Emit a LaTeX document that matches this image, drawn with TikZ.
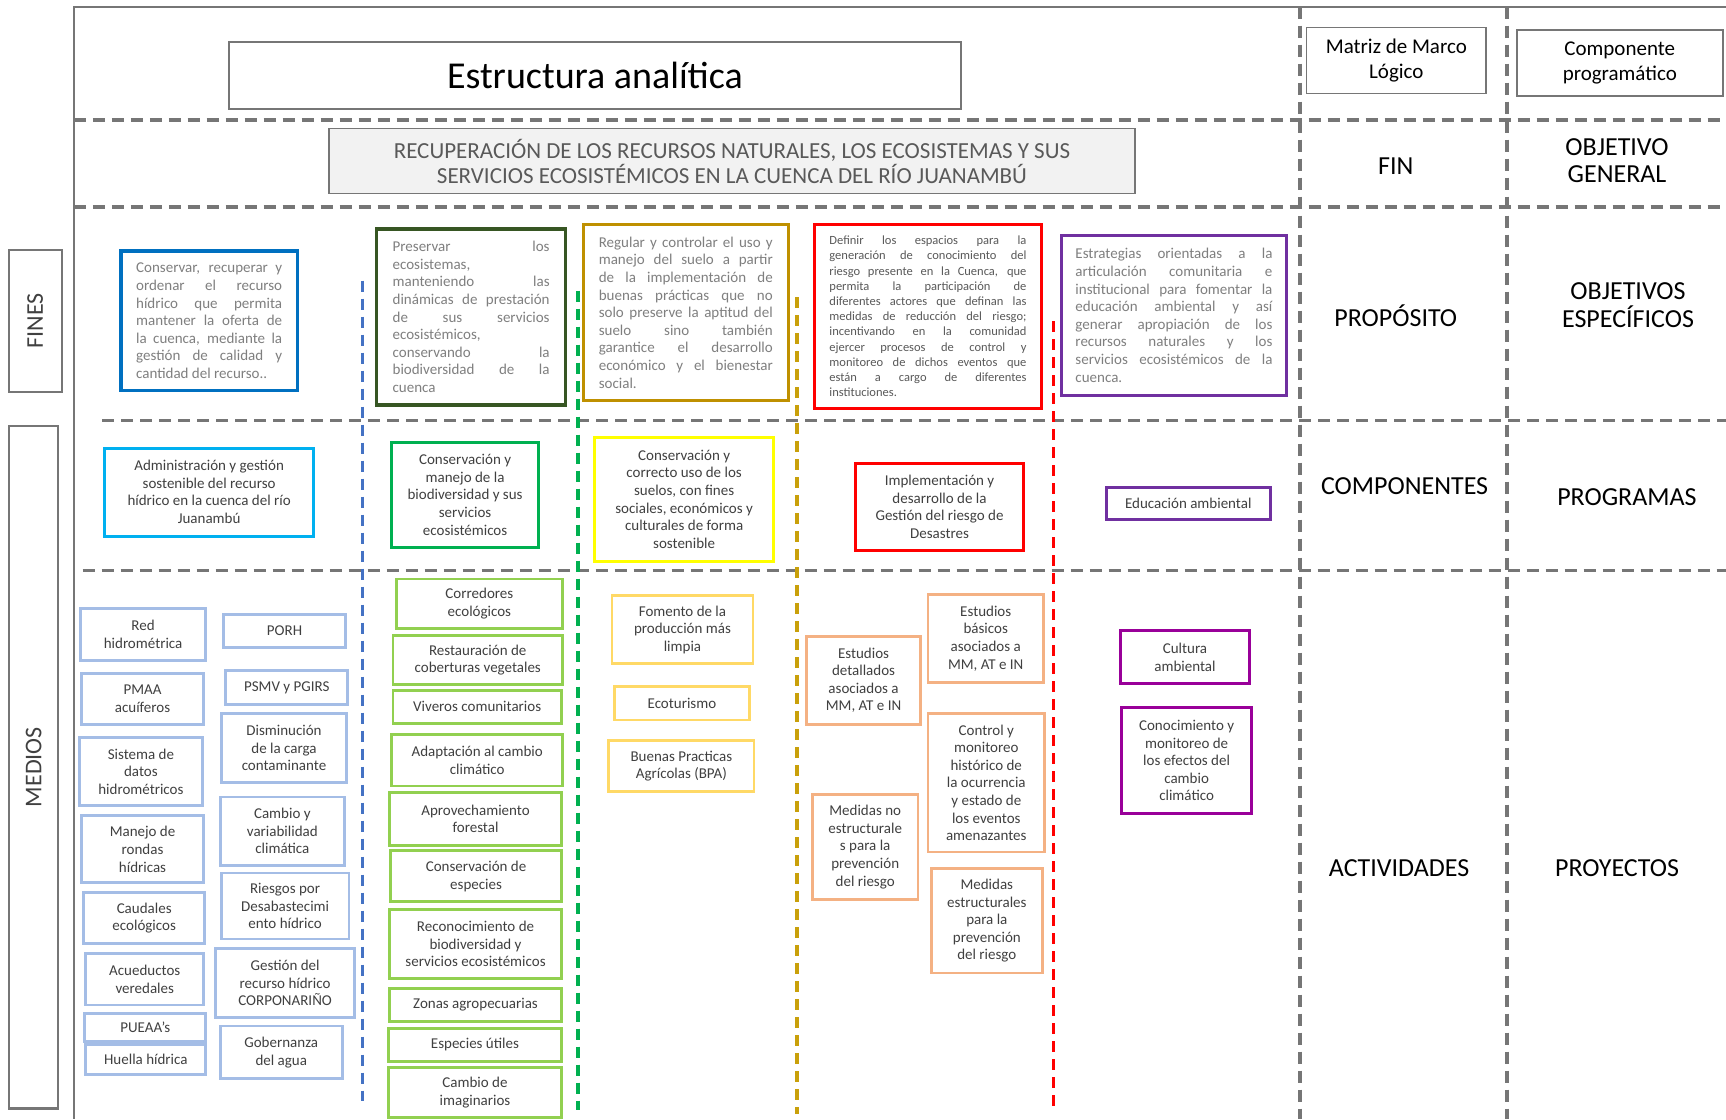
\documentclass[tikz,border=0pt]{standalone}
\usepackage{fontspec}
\setmainfont{Carlito}
\definecolor{lgray}{HTML}{767676}
\definecolor{tdark}{HTML}{404040}
\definecolor{tmid}{HTML}{595959}
\definecolor{tlight}{HTML}{7F7F7F}
\definecolor{cblue}{HTML}{0070C0}
\definecolor{cdgreen}{HTML}{375623}
\definecolor{cgold}{HTML}{BF9000}
\definecolor{cred}{HTML}{FF0000}
\definecolor{cpurple}{HTML}{7030A0}
\definecolor{ccyan}{HTML}{00B0F0}
\definecolor{cgreen}{HTML}{00B050}
\definecolor{cyellow}{HTML}{FFFF00}
\definecolor{clblue}{HTML}{A4BDE6}
\definecolor{clgreen}{HTML}{92D050}
\definecolor{clorange}{HTML}{FFD966}
\definecolor{corange}{HTML}{F4B183}
\definecolor{cmag}{HTML}{990099}
\definecolor{dblue}{HTML}{4472C4}
\definecolor{dgold}{HTML}{C9A00A}
\definecolor{goalfill}{HTML}{F2F2F2}
\newcommand\fbody{\fontsize{15}{17.6}\selectfont}
\newcommand\fsmall{\fontsize{12.5}{15.2}\selectfont}
\hyphenpenalty=10000
\exhyphenpenalty=10000
\tolerance=9999
\newcommand\bx[7]{\node[#2, minimum width={(#5-#3)*1.1008pt}, minimum height={(#6-#4)*1.1008pt}] (#1) at ({(#3+#5)/2},{(#4+#6)/2}) {#7};}
\tikzset{
  frameline/.style={draw=lgray, line width=2.2pt},
  gdash/.style={draw=lgray, line width=3.3pt, dash pattern=on 12pt off 7pt},
  cdash/.style={line width=3.2pt, dash pattern=on 11pt off 7pt},
  hdr/.style={draw=lgray, line width=1.6pt, text=black, align=center, inner sep=2pt},
  lab/.style={text=black, align=center, font=\fontsize{26}{27.5}\selectfont},
  side/.style={draw=lgray, line width=2.2pt, text=tdark, font=\fontsize{24}{26}\selectfont, inner sep=0pt},
  finbox/.style={draw=#1, line width=3.2pt, text=tlight, align=justify, font=\fbody, inner sep=2pt},
  compbox/.style={draw=#1, line width=3pt, text=tdark, align=center, font=\fbody, inner sep=2pt},
  actbox/.style={draw=#1, line width=2.8pt, text=tdark, align=center, font=\fbody, inner sep=1pt},
}
\begin{document}
\begin{tikzpicture}[x=1.1008pt, y=-1.1008pt]
\fill[white] (0,0) rectangle (1568,1017);
\useasboundingbox (0,0) rectangle (1568,1017);

% frame
\draw[frameline] (1568,6) -- (67,6) -- (67,1017);

% grid dashed lines
\draw[gdash] (67,109) -- (1568,109);
\draw[gdash] (67,188) -- (1568,188);
\draw[gdash] (93,382) -- (1568,382);
\draw[gdash] (75,518) -- (1568,518);
\draw[gdash] (1181,6) -- (1181,1017);
\draw[gdash] (1369,6) -- (1369,1017);

% coloured separators
\draw[cdash, draw=dblue] (329,255) -- (329,1000);
\draw[cdash, draw=cgreen] (525,264) -- (525,1008);
\draw[cdash, draw=dgold] (724,270) -- (724,1012);
\draw[cdash, draw=cred] (957,292) -- (957,1008);

% headers
\bx{title}{hdr, font=\fontsize{38}{40}\selectfont}{208}{38}{873}{99}{Estructura analítica}
\bx{goal}{hdr, fill=goalfill, line width=1.3pt, text=tmid, font=\fontsize{23}{25}\selectfont}{299}{117}{1031}{176}{RECUPERACIÓN DE LOS RECURSOS NATURALES, LOS ECOSISTEMAS Y SUS\\SERVICIOS ECOSISTÉMICOS EN LA CUENCA DEL RÍO JUANAMBÚ}
\bx{mml}{hdr, font=\fontsize{21}{25}\selectfont}{1187}{25}{1350}{85}{Matriz de Marco\\Lógico}
\bx{cprog}{hdr, font=\fontsize{21}{25}\selectfont}{1378}{27}{1565}{87}{Componente\\programático}

% side labels
\node[side, rotate=90, minimum width={129*1.1008pt}, minimum height={48*1.1008pt}] (fines) at (32,291.5) {FINES};
\node[side, rotate=90, minimum width={620*1.1008pt}, minimum height={45*1.1008pt}] (medios) at (30.5,697) {MEDIOS};

% right labels
\node[lab] (fin) at (1268,151) {FIN};
\node[lab] (og) at (1469,146) {OBJETIVO\\GENERAL};
\node[lab] (prop) at (1268,287) {PROPÓSITO};
\node[lab] (oe) at (1479,277) {OBJETIVOS\\ESPECÍFICOS};
\node[lab] (comp) at (1276,442) {COMPONENTES};
\node[lab] (prog) at (1478,452) {PROGRAMAS};
\node[lab] (act) at (1271,789) {ACTIVIDADES};
\node[lab] (proy) at (1469,789) {PROYECTOS};

% fines (objetivos)
\bx{p1}{finbox=cblue, text width=146pt}{110}{228}{270}{355}{Conservar, recuperar y\linebreak ordenar el recurso\linebreak hídrico que permita\linebreak mantener la oferta de\linebreak la cuenca, mediante la\linebreak gestión de calidad y\linebreak cantidad del recurso..}
\bx{p2}{finbox=cdgreen, text width=157pt}{342}{208}{514}{368}{Preservar los\linebreak ecosistemas,\linebreak manteniendo las\linebreak dinámicas de prestación\linebreak de sus servicios\linebreak ecosistémicos,\linebreak conservando la\linebreak biodiversidad de la\linebreak cuenca}
\bx{p3}{finbox=cgold, text width=174pt}{530}{204}{716}{364}{Regular y controlar el uso y\linebreak manejo del suelo a partir\linebreak de la implementación de\linebreak buenas prácticas que no\linebreak solo preserve la aptitud del\linebreak suelo sino también\linebreak garantice el desarrollo\linebreak económico y el bienestar\linebreak social.}
\bx{p4}{finbox=cred, text width=197pt, font=\fsmall, text=tmid}{740}{204}{946}{371}{Definir los espacios para la\linebreak generación de conocimiento del\linebreak riesgo presente en la Cuenca, que\linebreak permita la participación de\linebreak diferentes actores que definan las\linebreak medidas de reducción del riesgo;\linebreak incentivando en la comunidad\linebreak ejercer procesos de control y\linebreak monitoreo de dichos eventos que\linebreak están a cargo de diferentes\linebreak instituciones.}
\bx{p5}{finbox=cpurple, text width=197pt}{964}{214}{1169}{359}{Estrategias orientadas a la\linebreak articulación comunitaria e\linebreak institucional para fomentar la\linebreak educación ambiental y así\linebreak generar apropiación de los\linebreak recursos naturales y los\linebreak servicios ecosistémicos de la\linebreak cuenca.}

% componentes
\bx{k1}{compbox=ccyan}{95}{407}{285}{487}{Administración y gestión\\sostenible del recurso\\hídrico en la cuenca del río\\Juanambú}
\bx{k2}{compbox=cgreen}{356}{402}{489}{497}{Conservación y\\manejo de la\\biodiversidad y sus\\servicios\\ecosistémicos}
\bx{k3}{compbox=cyellow}{540}{397}{703}{510}{Conservación y\\correcto uso de los\\suelos, con fines\\sociales, económicos y\\culturales de forma\\sostenible}
\bx{k4}{compbox=cred}{777}{421}{930}{500}{Implementación y\\desarrollo de la\\Gestión del riesgo de\\Desastres}
\bx{k5}{compbox=cpurple}{1005}{443}{1154}{472}{Educación ambiental}

% actividades - recurso hidrico
\bx{a1}{actbox=clblue}{73}{553}{187}{600}{Red\\hidrométrica}
\bx{a2}{actbox=clblue}{74}{612}{185}{658}{PMAA\\acuíferos}
\bx{a3}{actbox=clblue}{72}{670}{184}{732}{Sistema de\\datos\\hidrométricos}
\bx{a4}{actbox=clblue}{74}{741}{185}{802}{Manejo de\\rondas\\hídricas}
\bx{a5}{actbox=clblue}{76}{811}{186}{857}{Caudales\\ecológicos}
\bx{a6}{actbox=clblue}{78}{866}{185}{913}{Acueductos\\veredales}
\bx{a7}{actbox=clblue}{77}{921}{187}{946}{PUEAA’s}
\bx{a8}{actbox=clblue}{78}{949}{187}{976}{Huella hídrica}
\bx{b1}{actbox=clblue}{203}{558}{314}{588}{PORH}
\bx{b2}{actbox=clblue}{205}{609}{316}{640}{PSMV y PGIRS}
\bx{b3}{actbox=clblue}{201}{648}{315}{711}{Disminución\\de la carga\\contaminante}
\bx{b4}{actbox=clblue}{200}{724}{313}{786}{Cambio y\\variabilidad\\climática}
\bx{b5}{actbox=clblue}{201}{793}{317}{853}{Riesgos por\\Desabastecimi\\ento hídrico}
\bx{b6}{actbox=clblue}{196}{862}{322}{924}{Gestión del\\recurso hídrico\\CORPONARIÑO}
\bx{b7}{actbox=clblue}{200}{932}{311}{980}{Gobernanza\\del agua}

% actividades - biodiversidad
\bx{c1}{actbox=clgreen}{360}{526}{511}{571}{Corredores\\ecológicos}
\bx{c2}{actbox=clgreen}{357}{577}{511}{622}{Restauración de\\coberturas vegetales}
\bx{c3}{actbox=clgreen}{357}{627}{510}{657}{Viveros comunitarios}
\bx{c4}{actbox=clgreen}{356}{667}{511}{714}{Adaptación al cambio\\climático}
\bx{c5}{actbox=clgreen}{354}{720}{510}{768}{Aprovechamiento\\forestal}
\bx{c6}{actbox=clgreen}{355}{773}{510}{819}{Conservación de\\especies}
\bx{c7}{actbox=clgreen}{354}{826}{510}{889}{Reconocimiento de\\biodiversidad y\\servicios ecosistémicos}
\bx{c8}{actbox=clgreen}{354}{898}{510}{928}{Zonas agropecuarias}
\bx{c9}{actbox=clgreen}{353}{934}{510}{964}{Especies útiles}
\bx{c10}{actbox=clgreen}{353}{970}{510}{1015}{Cambio de\\imaginarios}

% actividades - suelos
\bx{d1}{actbox=clorange}{556}{541}{684}{603}{Fomento de la\\producción más\\limpia}
\bx{d2}{actbox=clorange}{558}{624}{681}{654}{Ecoturismo}
\bx{d3}{actbox=clorange}{553}{673}{685}{719}{Buenas Practicas\\Agrícolas (BPA)}

% actividades - riesgo
\bx{e1}{actbox=corange}{733}{578}{836}{658}{Estudios\\detallados\\asociados a\\MM, AT e IN}
\bx{e2}{actbox=corange}{843}{540}{948}{620}{Estudios\\básicos\\asociados a\\MM, AT e IN}
\bx{e3}{actbox=corange}{843}{648}{949}{774}{Control y\\monitoreo\\histórico de\\la ocurrencia\\y estado de\\los eventos\\amenazantes}
\bx{e4}{actbox=corange}{738}{722}{834}{817}{Medidas no\\estructurale\\s para la\\prevención\\del riesgo}
\bx{e5}{actbox=corange}{846}{789}{947}{884}{Medidas\\estructurales\\para la\\prevención\\del riesgo}

% actividades - educacion
\bx{g1}{actbox=cmag}{1018}{573}{1135}{621}{Cultura\\ambiental}
\bx{g2}{actbox=cmag}{1019}{643}{1137}{739}{Conocimiento y\\monitoreo de\\los efectos del\\cambio\\climático}
\end{tikzpicture}
\end{document}
